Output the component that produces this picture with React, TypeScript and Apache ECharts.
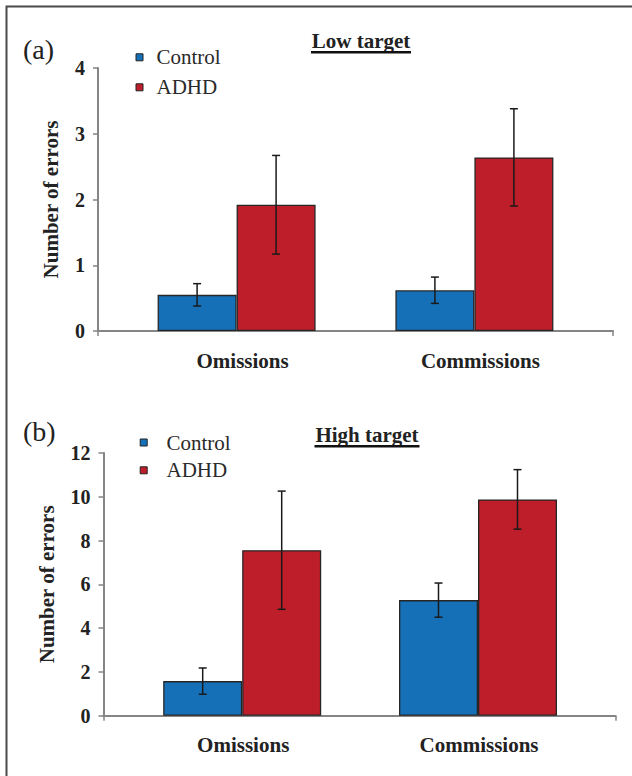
import React, { useEffect, useRef } from 'react';
import * as echarts from 'echarts';

const categories = ['Omissions', 'Commissions'];
const groupNames = ['Control', 'ADHD'];

const lowControlMean = [0.55, 0.62];
const lowControlErr = [0.17, 0.2];
const lowAdhdMean = [1.92, 2.64];
const lowAdhdErr = [0.75, 0.74];

const highControlMean = [1.58, 5.28];
const highControlErr = [0.6, 0.78];
const highAdhdMean = [7.56, 9.88];
const highAdhdErr = [2.7, 1.36];

const lowYTicks = [0, 1, 2, 3, 4];
const highYTicks = [0, 2, 4, 6, 8, 10, 12];

const CONTROL_COLOR = '#1570B8';
const ADHD_COLOR = '#BE1E2A';
const GROUP_COLORS = [CONTROL_COLOR, ADHD_COLOR];
const FONT = "'Liberation Serif', 'Times New Roman', 'DejaVu Serif', serif";
const TEXT = '#222222';
const AXIS = '#858585';
const BAR_W = 79;
const CAP = 4;

function errSeries(xi: number, yi: number, means: number[], errs: number[], offset: number) {
  return {
    type: 'custom',
    xAxisIndex: xi,
    yAxisIndex: yi,
    z: 5,
    encode: { x: 0, y: [1, 2] },
    data: means.map((m, i) => [i, m - errs[i], m + errs[i]]),
    renderItem: (params: any, api: any) => {
      const lo = api.coord([api.value(0), api.value(1)]);
      const hi = api.coord([api.value(0), api.value(2)]);
      const x = lo[0] + offset;
      const style = { stroke: '#1a1a1a', lineWidth: 1.5 };
      return {
        type: 'group',
        children: [
          { type: 'line', shape: { x1: x, y1: hi[1], x2: x, y2: lo[1] }, style },
          { type: 'line', shape: { x1: x - CAP, y1: hi[1], x2: x + CAP, y2: hi[1] }, style },
          { type: 'line', shape: { x1: x - CAP, y1: lo[1], x2: x + CAP, y2: lo[1] }, style },
        ],
      };
    },
  };
}

function barSeries(name: string, xi: number, yi: number, data: number[], color: string) {
  return {
    type: 'bar',
    name,
    xAxisIndex: xi,
    yAxisIndex: yi,
    barWidth: BAR_W,
    barGap: '0%',
    data,
    itemStyle: { color, borderColor: '#262626', borderWidth: 1.3 },
  };
}

function catAxis(gridIndex: number, padLeft: number) {
  return {
    type: 'category',
    gridIndex,
    data: categories,
    axisLine: { show: false },
    axisTick: { show: false },
    axisLabel: {
      margin: 19,
      color: TEXT,
      fontFamily: FONT,
      fontWeight: 'bold',
      fontSize: 21,
      padding: [0, 0, 0, padLeft],
    },
  };
}

function frameXAxis(gridIndex: number) {
  return {
    type: 'value',
    gridIndex,
    min: 0,
    max: 1,
    interval: 1,
    axisLine: { show: true, lineStyle: { color: AXIS, width: 2 } },
    axisTick: { show: true, length: 5, lineStyle: { color: AXIS, width: 1.5 } },
    axisLabel: { show: false },
    splitLine: { show: false },
  };
}

function valAxis(gridIndex: number, ticks: number[], offset: number, nameGap: number) {
  return {
    type: 'value',
    gridIndex,
    min: ticks[0],
    max: ticks[ticks.length - 1],
    interval: ticks[1] - ticks[0],
    offset,
    name: 'Number of errors',
    nameLocation: 'middle',
    nameRotate: 90,
    nameGap,
    nameTextStyle: { color: TEXT, fontFamily: FONT, fontWeight: 'bold', fontSize: 21 },
    axisLine: { show: true, lineStyle: { color: AXIS, width: 2 } },
    axisTick: { show: true, length: 5, lineStyle: { color: AXIS, width: 1.5 } },
    axisLabel: { margin: 13, color: TEXT, fontFamily: FONT, fontWeight: 'bold', fontSize: 20 },
    splitLine: { show: false },
  };
}

function hiddenY(gridIndex: number) {
  return { type: 'value', gridIndex, show: false, min: 0, max: 1 };
}

// Hand-drawn legend (icon square + serif label) for one panel
function legendGraphic(iconX: number, textX: number, centers: number[]) {
  const children: any[] = [];
  groupNames.forEach((name, i) => {
    children.push({
      type: 'rect',
      shape: { x: iconX, y: centers[i] - 3.5, width: 7, height: 7 },
      style: { fill: GROUP_COLORS[i], stroke: '#222', lineWidth: 1 },
    });
    children.push({
      type: 'text',
      x: textX,
      y: centers[i],
      style: {
        text: name,
        fill: '#2a2a2a',
        font: `21px ${FONT}`,
        textAlign: 'left',
        textVerticalAlign: 'middle',
      },
    });
  });
  return { type: 'group', children };
}

export default function App() {
  const ref = useRef<HTMLDivElement>(null);
  useEffect(() => {
    if (!ref.current) return;
    const chart = echarts.init(ref.current, undefined, { renderer: 'svg' });
    const option: any = {
      animation: false,
      backgroundColor: '#ffffff',
      textStyle: { fontFamily: FONT },
      grid: [
        { left: 117.7, top: 68, width: 475.6, height: 263 },
        { left: 98, top: 68, width: 515, height: 263 },
        { left: 124.3, top: 453, width: 471.6, height: 262.7 },
        { left: 103.5, top: 453, width: 512, height: 262.7 },
      ],
      xAxis: [catAxis(0, 12), frameXAxis(1), catAxis(2, 2), frameXAxis(3)],
      yAxis: [valAxis(0, lowYTicks, 19.7, 37), hiddenY(1), valAxis(2, highYTicks, 20.8, 46), hiddenY(3)],
      series: [
        barSeries('Control', 0, 0, lowControlMean, CONTROL_COLOR),
        barSeries('ADHD', 0, 0, lowAdhdMean, ADHD_COLOR),
        errSeries(0, 0, lowControlMean, lowControlErr, -BAR_W / 2),
        errSeries(0, 0, lowAdhdMean, lowAdhdErr, BAR_W / 2),
        barSeries('Control', 2, 2, highControlMean, CONTROL_COLOR),
        barSeries('ADHD', 2, 2, highAdhdMean, ADHD_COLOR),
        errSeries(2, 2, highControlMean, highControlErr, -BAR_W / 2),
        errSeries(2, 2, highAdhdMean, highAdhdErr, BAR_W / 2),
      ],
      graphic: [
        {
          type: 'polyline',
          shape: { points: [[6.5, 776], [6.5, 6.5], [632, 6.5]] },
          style: { stroke: '#4a4a4a', lineWidth: 2, fill: 'none' },
          silent: true,
        },
        legendGraphic(136, 156.5, [57.3, 87.3]),
        legendGraphic(140.2, 166.5, [442.5, 470.3]),
        {
          type: 'text', x: 23, y: 49,
          style: { text: '(a)', fill: TEXT, font: `28px ${FONT}`, textAlign: 'left', textVerticalAlign: 'middle' },
        },
        {
          type: 'text', x: 23, y: 431,
          style: { text: '(b)', fill: TEXT, font: `28px ${FONT}`, textAlign: 'left', textVerticalAlign: 'middle' },
        },
        {
          type: 'text', x: 361, y: 40.5,
          style: { text: 'Low target', fill: TEXT, font: `bold 21px ${FONT}`, textAlign: 'center', textVerticalAlign: 'middle' },
        },
        { type: 'rect', shape: { x: 311, y: 51, width: 100, height: 2.4 }, style: { fill: '#111' } },
        {
          type: 'text', x: 367, y: 434.5,
          style: { text: 'High target', fill: TEXT, font: `bold 21px ${FONT}`, textAlign: 'center', textVerticalAlign: 'middle' },
        },
        { type: 'rect', shape: { x: 314.5, y: 445, width: 105, height: 2.4 }, style: { fill: '#111' } },
      ],
    };
    chart.setOption(option);
    return () => chart.dispose();
  }, []);
  return <div ref={ref} style={{ position: 'absolute', left: 0, top: 0, width: 632, height: 776 }} />;
}
